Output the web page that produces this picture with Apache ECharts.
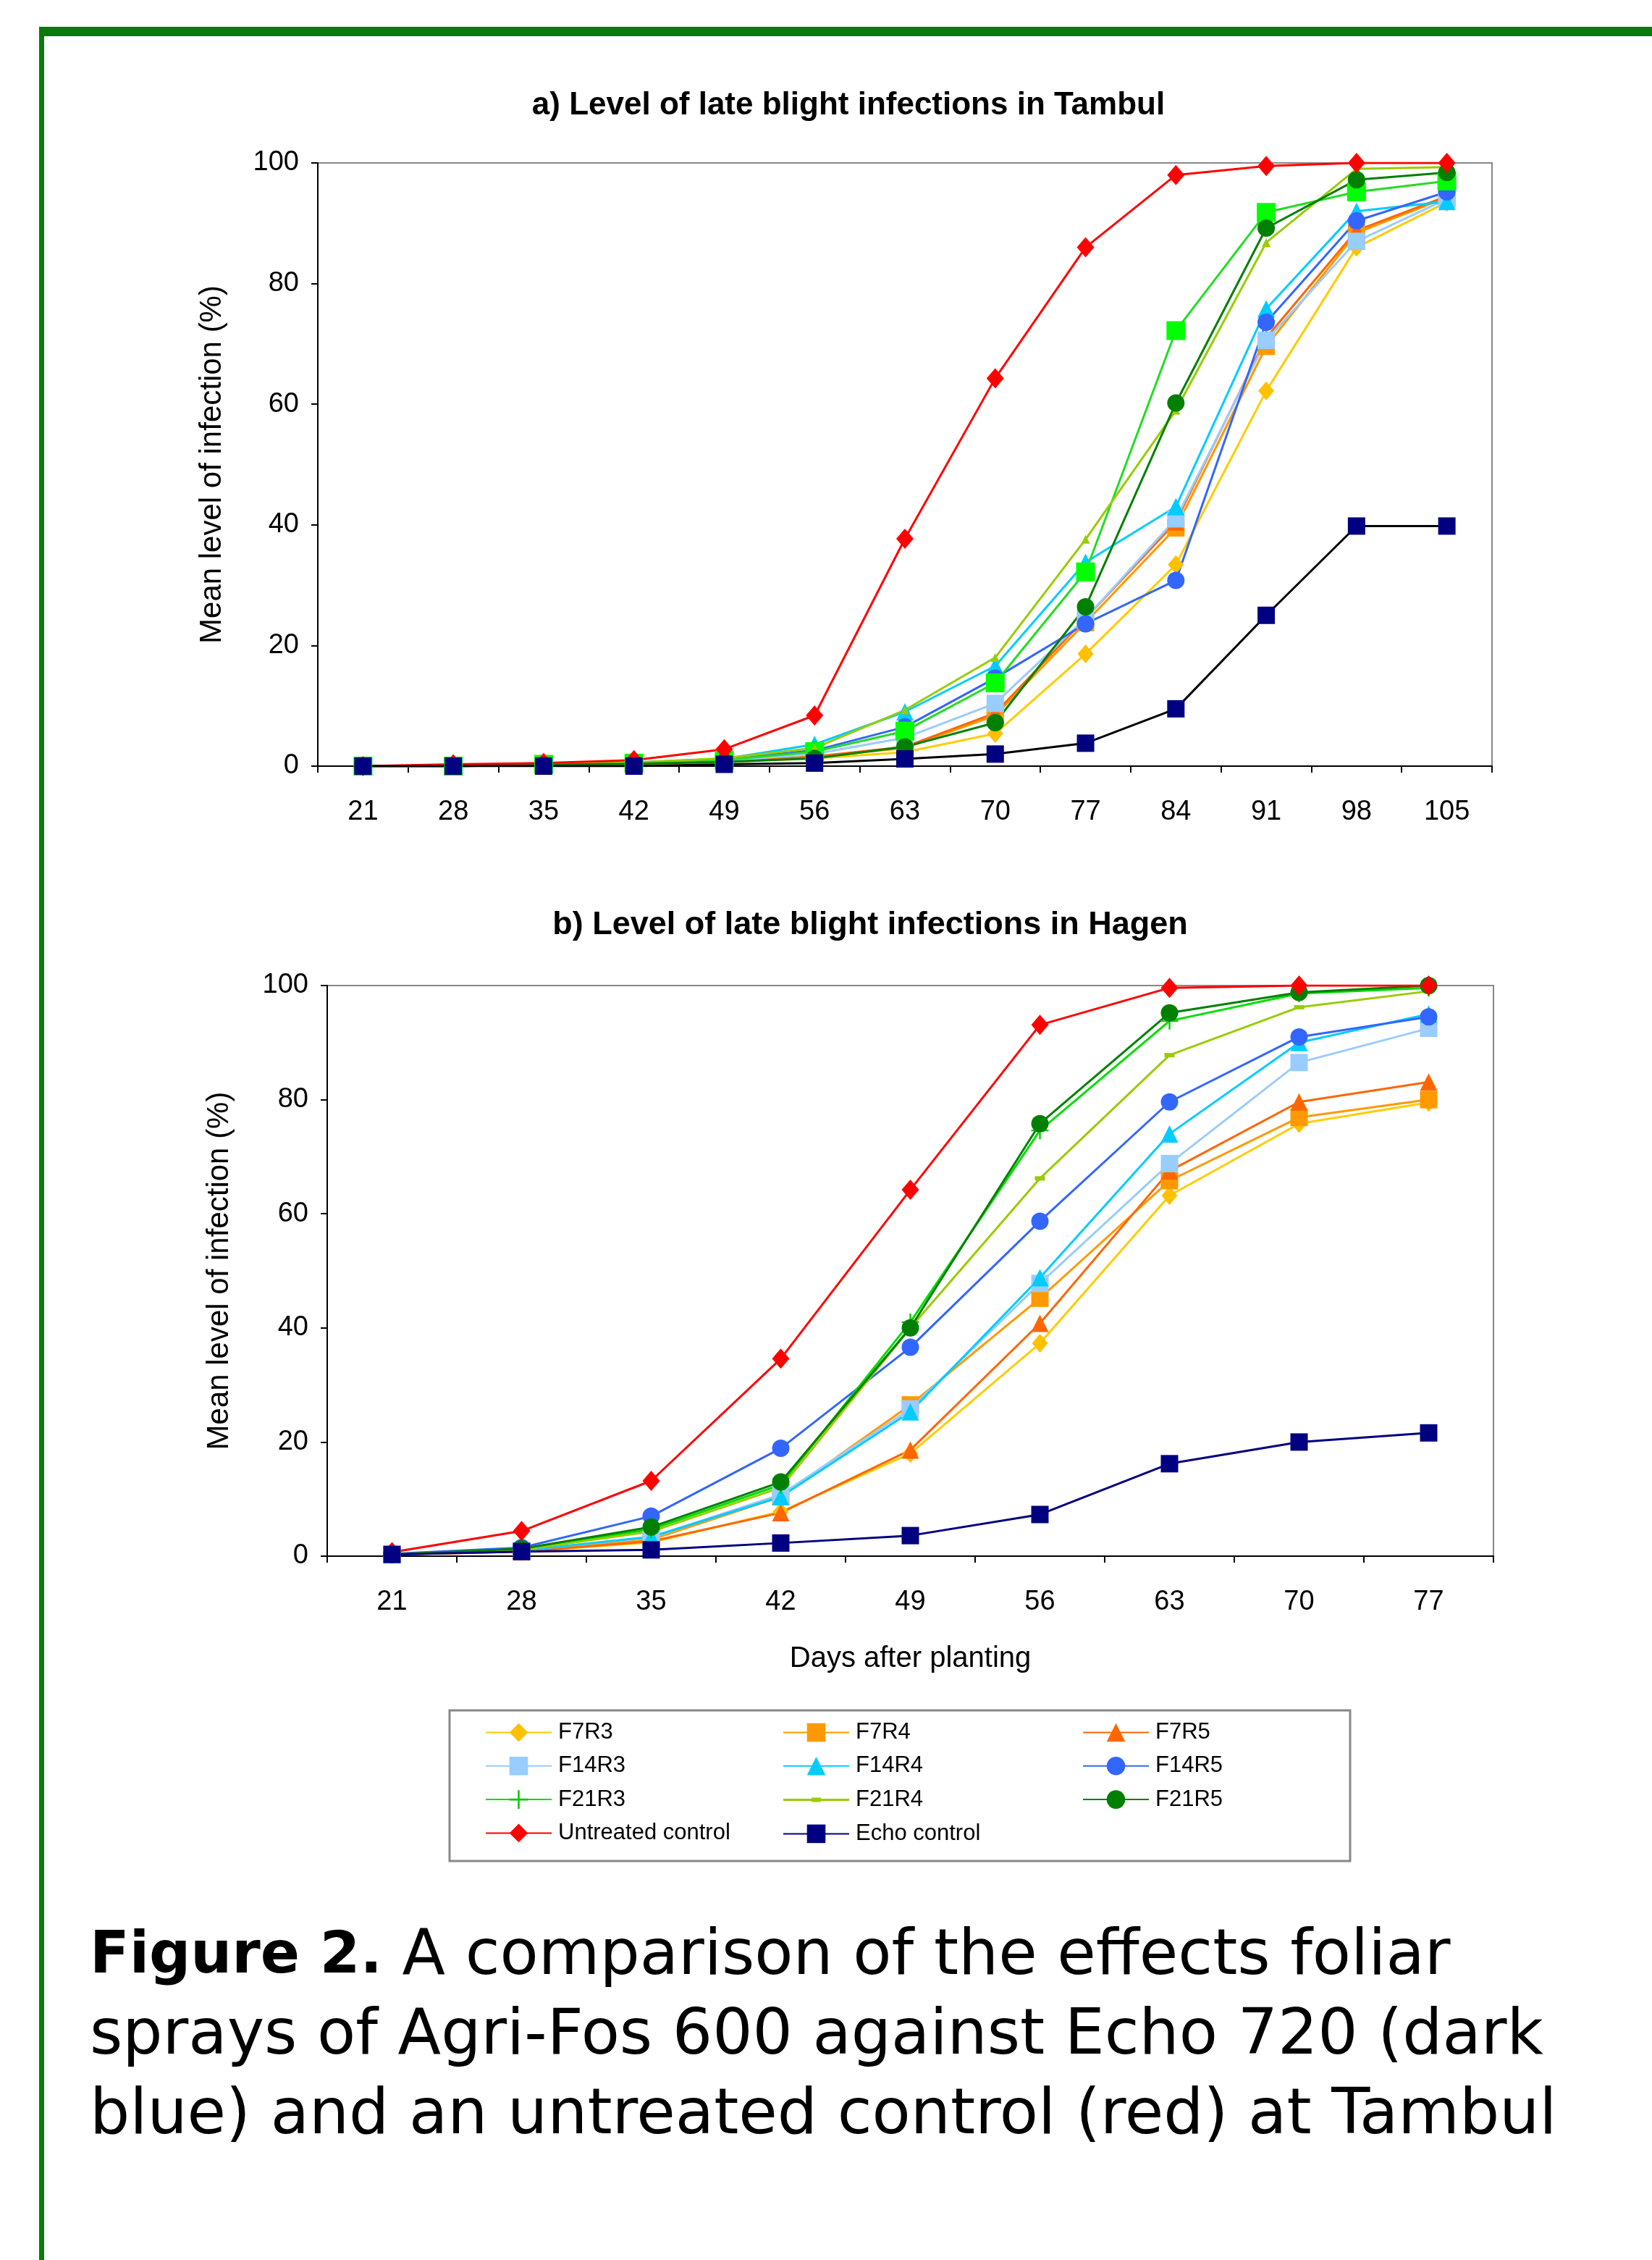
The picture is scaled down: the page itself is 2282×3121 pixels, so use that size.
<!DOCTYPE html>
<html><head><meta charset="utf-8">
<script src="https://cdn.jsdelivr.net/npm/echarts@6/dist/echarts.min.js"></script>
<style>html,body{margin:0;padding:0;background:#fff}#c{width:2282px;height:3121px}</style>
</head><body><div id="c"></div>
<script>
// ---------- data ----------
const daysA = ['21','28','35','42','49','56','63','70','77','84','91','98','105'];
const daysB = ['21','28','35','42','49','56','63','70','77'];
const yTicks = [0, 20, 40, 60, 80, 100];

// a) Tambul
const tamF7R3  = [0, 0, 0.2, 0.4, 0.7, 1.3, 2.3, 5.4, 18.6, 33.4, 62.2, 86.0, 93.5];
const tamF7R4  = [0, 0, 0.2, 0.5, 0.8, 1.5, 3.0, 8.4, 23.8, 39.5, 69.6, 88.4, 94.3];
const tamF7R5  = [0, 0, 0.2, 0.5, 0.8, 1.6, 3.2, 8.8, 24.5, 40.5, 71.0, 88.8, 94.5];
const tamF14R3 = [0, 0, 0.3, 0.5, 0.9, 2.0, 4.7, 10.4, 24.5, 41.0, 70.6, 87.0, 94.0];
const tamF14R4 = [0, 0, 0.3, 0.6, 1.2, 3.6, 9.0, 16.6, 33.8, 43.0, 75.8, 92.0, 93.6];
const tamF14R5 = [0, 0, 0.3, 0.6, 1.1, 2.6, 6.5, 14.6, 23.6, 30.8, 73.6, 90.4, 95.2];
const tamF21R3 = [0, 0, 0.3, 0.5, 1.0, 2.4, 5.8, 13.8, 32.2, 72.2, 91.8, 95.2, 97.0];
const tamF21R4 = [0, 0, 0.3, 0.6, 1.3, 3.0, 9.3, 18.0, 37.6, 59.0, 86.8, 99.0, 99.3];
const tamF21R5 = [0, 0, 0.2, 0.4, 0.7, 1.3, 3.2, 7.2, 26.4, 60.2, 89.2, 97.2, 98.4];
const tamUntreated = [0, 0.3, 0.5, 1.0, 2.8, 8.4, 37.7, 64.3, 86.0, 98.0, 99.5, 100, 100];
const tamEcho      = [0, 0, 0, 0, 0.3, 0.5, 1.2, 2.0, 3.8, 9.5, 25.0, 39.8, 39.8];

// b) Hagen
const hagF7R3  = [0.3, 0.8, 2.4, 7.8, 18.0, 37.3, 63.2, 75.8, 79.5];
const hagF7R4  = [0.3, 0.9, 2.9, 10.4, 26.5, 45.2, 65.8, 76.9, 80.0];
const hagF7R5  = [0.3, 0.8, 2.6, 7.6, 18.6, 40.8, 67.5, 79.6, 83.1];
const hagF14R3 = [0.3, 1.0, 3.3, 10.8, 25.8, 47.8, 68.8, 86.5, 92.5];
const hagF14R4 = [0.3, 1.0, 3.4, 10.4, 25.3, 48.8, 74.0, 90.0, 95.0];
const hagF14R5 = [0.4, 1.5, 7.0, 18.9, 36.6, 58.7, 79.6, 91.0, 94.5];
const hagF21R3 = [0.3, 1.2, 4.7, 12.5, 41.0, 74.6, 93.8, 98.6, 99.6];
const hagF21R4 = [0.3, 1.1, 4.3, 12.0, 40.0, 66.2, 87.8, 96.2, 99.0];
const hagF21R5 = [0.3, 1.3, 5.1, 13.0, 40.0, 75.8, 95.2, 98.8, 100];
const hagUntreated = [0.7, 4.4, 13.2, 34.6, 64.2, 93.1, 99.6, 100, 100];
const hagEcho      = [0.3, 0.8, 1.1, 2.3, 3.6, 7.3, 16.2, 20.0, 21.6];

const seriesNames = ['F7R3','F7R4','F7R5','F14R3','F14R4','F14R5','F21R3','F21R4','F21R5','Untreated control','Echo control'];
const tamData = [tamF7R3, tamF7R4, tamF7R5, tamF14R3, tamF14R4, tamF14R5, tamF21R3, tamF21R4, tamF21R5, tamUntreated, tamEcho];
const hagData = [hagF7R3, hagF7R4, hagF7R5, hagF14R3, hagF14R4, hagF14R5, hagF21R3, hagF21R4, hagF21R5, hagUntreated, hagEcho];

const titleA = 'a) Level of late blight infections in Tambul';
const titleB = 'b) Level of late blight infections in Hagen';
const yName = 'Mean level of infection (%)';
const xName = 'Days after planting';
const captionLines = [
  '{b|Figure 2.} A comparison of the effects foliar',
  'sprays of Agri-Fos 600 against Echo 720 (dark',
  'blue) and an untreated control (red) at Tambul'
];

// ---------- styles ----------
const PLUS = 'path://M9,0 L11,0 L11,9 L20,9 L20,11 L11,11 L11,20 L9,20 L9,11 L0,11 L0,9 L9,9 Z';
// legend icon for F21R4: thin line with a small dash marker (box 91 x 32)
const DASH_ICON = 'path://M0,0 L0,0 Z M91,32 L91,32 Z M0,14.5 L91,14.5 L91,17.5 L0,17.5 Z M39,13 L52,13 L52,19 L39,19 Z';
const styleB = {
  'F7R3':  {line:'#FFCC00', mark:'#FFC000', symbol:'diamond', size:[22,26]},
  'F7R4':  {line:'#FF9900', mark:'#FF9900', symbol:'rect', size:24},
  'F7R5':  {line:'#FF6600', mark:'#FF6600', symbol:'triangle', size:24},
  'F14R3': {line:'#99CCFF', mark:'#99CCFF', symbol:'rect', size:24},
  'F14R4': {line:'#00CCFF', mark:'#00CCFF', symbol:'triangle', size:24},
  'F14R5': {line:'#3366FF', mark:'#3366FF', symbol:'circle', size:24},
  'F21R3': {line:'#00DD00', mark:'#00CC00', symbol:PLUS, size:24},
  'F21R4': {line:'#99CC00', mark:'#99CC00', symbol:'rect', size:[14,6]},
  'F21R5': {line:'#008000', mark:'#008000', symbol:'circle', size:24},
  'Untreated control': {line:'#FF0000', mark:'#FF0000', symbol:'diamond', size:[24,28]},
  'Echo control': {line:'#000080', mark:'#000080', symbol:'rect', size:24}
};
const styleA = Object.assign({}, styleB, {
  'F21R3': {line:'#22DD22', mark:'#00FF00', symbol:'rect', size:26},
  'F21R4': {line:'#99CC00', mark:'#99CC00', symbol:'triangle', size:12},
  'Echo control': {line:'#000000', mark:'#000080', symbol:'rect', size:24}
});

function mkSeries(name, data, idx, st) {
  return {
    name: name, type: 'line', data: data,
    xAxisIndex: idx, yAxisIndex: idx,
    symbol: st.symbol, symbolSize: st.size, showSymbol: true,
    lineStyle: {color: st.line, width: 3},
    itemStyle: {color: st.mark, borderWidth: 0},
    emphasis: {disabled: true},
    z: 2
  };
}
const series = [];
seriesNames.forEach((n, i) => series.push(mkSeries(n, hagData[i], 1, styleB[n])));
seriesNames.forEach((n, i) => series.push(mkSeries(n, tamData[i], 0, styleA[n])));

const SANS = "'Liberation Sans', Arial, sans-serif";

function xAx(idx, data, withName) {
  const o = {
    type: 'category', gridIndex: idx, data: data, boundaryGap: true,
    axisLine: {show: true, lineStyle: {color: '#000', width: 2}},
    axisTick: {show: true, length: 9, alignWithLabel: false, lineStyle: {color: '#000', width: 2}},
    axisLabel: {color: '#000', fontSize: 38, fontFamily: SANS, margin: 45},
    splitLine: {show: false}
  };
  if (withName) {
    o.name = xName; o.nameLocation = 'middle'; o.nameGap = 122;
    o.nameTextStyle = {color: '#000', fontSize: 40, fontFamily: SANS};
  }
  return o;
}
function yAx(idx, gap) {
  return {
    type: 'value', gridIndex: idx, min: 0, max: 100, interval: 20,
    axisLine: {show: true, lineStyle: {color: '#000', width: 2}},
    axisTick: {show: true, length: 9, lineStyle: {color: '#000', width: 2}},
    axisLabel: {color: '#000', fontSize: 38, fontFamily: SANS, margin: 26,
      formatter: v => (yTicks.indexOf(v) >= 0 ? String(v) : '')},
    splitLine: {show: false},
    name: yName, nameLocation: 'middle', nameRotate: 90, nameGap: gap,
    nameTextStyle: {color: '#000', fontSize: 42, fontFamily: SANS}
  };
}

const legendCommon = {
  orient: 'vertical', padding: 0, itemWidth: 91, itemHeight: 32, itemGap: 15.3,
  textStyle: {color: '#000', fontSize: 31, fontFamily: SANS, padding: [0, 0, 0, 4]},
  top: 2377, selectedMode: false
};

const GREEN = '#0A7A0A';
const graphic = [
  {type: 'rect', shape: {x: 54, y: 37, width: 2228, height: 13}, style: {fill: GREEN}},
  {type: 'rect', shape: {x: 54, y: 37, width: 7, height: 3084}, style: {fill: GREEN}},
  {type: 'rect', shape: {x: 621, y: 2362, width: 1244, height: 208}, style: {fill: 'none', stroke: '#888', lineWidth: 3}},
  {type: 'text', x: 1172, y: 146, style: {text: titleA, align: 'center', verticalAlign: 'middle',
    fontSize: 44, fontWeight: 'bold', fontFamily: SANS, fill: '#000'}},
  {type: 'text', x: 1202, y: 1278, style: {text: titleB, align: 'center', verticalAlign: 'middle',
    fontSize: 45, fontWeight: 'bold', fontFamily: SANS, fill: '#000'}}
];
captionLines.forEach((t, i) => {
  graphic.push({type: 'text', x: 124, y: 2703 + i * 110, style: {
    text: t, align: 'left', verticalAlign: 'middle',
    fontSize: 87, fontFamily: "'DejaVu Sans', sans-serif", fill: '#000',
    rich: {b: {fontSize: 80, fontWeight: 'bold', fontFamily: "'DejaVu Sans', sans-serif", fill: '#000'}}
  }});
});

const option = {
  animation: false,
  backgroundColor: '#fff',
  grid: [
    {left: 439, top: 225, width: 1622, height: 833, show: true, borderColor: '#888', borderWidth: 2, backgroundColor: 'transparent'},
    {left: 452, top: 1361, width: 1611, height: 788, show: true, borderColor: '#888', borderWidth: 2, backgroundColor: 'transparent'}
  ],
  xAxis: [xAx(0, daysA, false), xAx(1, daysB, true)],
  yAxis: [yAx(0, 125), yAx(1, 128)],
  legend: [
    Object.assign({left: 670, data: ['F7R3','F14R3','F21R3','Untreated control']}, legendCommon),
    Object.assign({left: 1081, data: ['F7R4','F14R4',{name: 'F21R4', icon: DASH_ICON},'Echo control']}, legendCommon),
    Object.assign({left: 1495, data: ['F7R5','F14R5','F21R5']}, legendCommon)
  ],
  graphic: graphic,
  series: series
};
const chart = echarts.init(document.getElementById('c'), null, {renderer: 'canvas'});
chart.setOption(option);
</script>
</body></html>
